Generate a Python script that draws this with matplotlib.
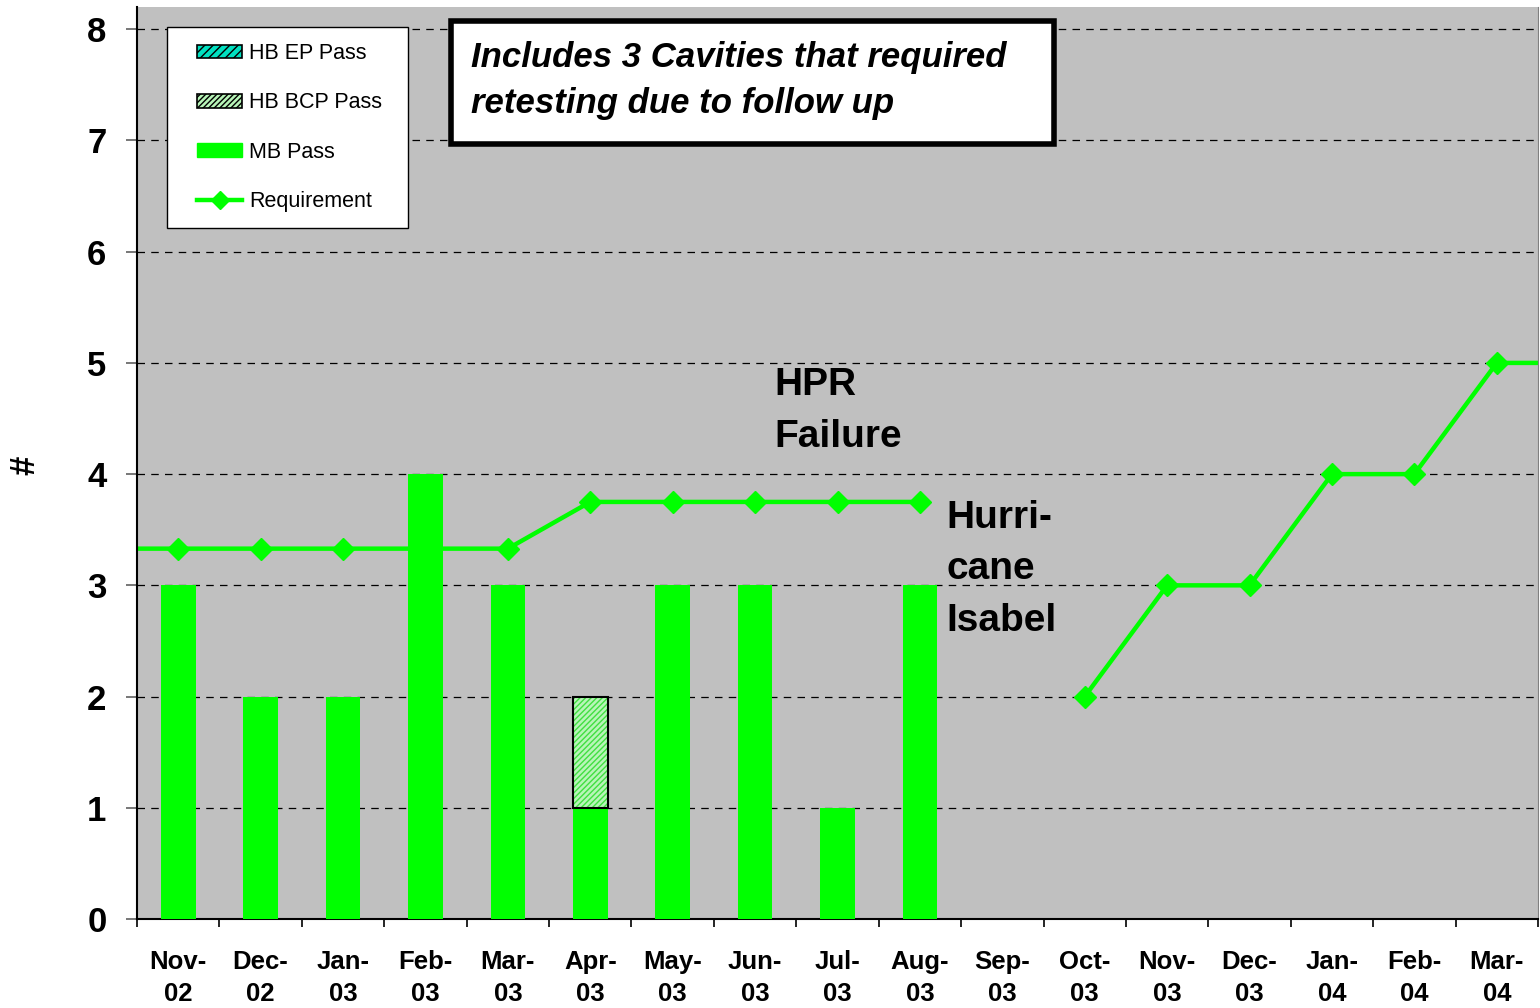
import numpy as np
import matplotlib
matplotlib.use("Agg")
import matplotlib.pyplot as plt
from matplotlib.patches import Patch, Rectangle
from matplotlib.lines import Line2D

plt.rcParams['font.family'] = ['Liberation Sans', 'DejaVu Sans']

# data
months = ['Nov-\n02', 'Dec-\n02', 'Jan-\n03', 'Feb-\n03', 'Mar-\n03', 'Apr-\n03', 'May-\n03',
          'Jun-\n03', 'Jul-\n03', 'Aug-\n03', 'Sep-\n03', 'Oct-\n03', 'Nov-\n03', 'Dec-\n03',
          'Jan-\n04', 'Feb-\n04', 'Mar-\n04']
mb_pass = [3, 2, 2, 4, 3, 1, 3, 3, 1, 3, 0, 0, 0, 0, 0, 0, 0]
hb_bcp_pass = [0, 0, 0, 0, 0, 1, 0, 0, 0, 0, 0, 0, 0, 0, 0, 0, 0]
hb_ep_pass = [0] * 17
requirement = [3.33, 3.33, 3.33, 3.33, 3.33, 3.75, 3.75, 3.75, 3.75, 3.75, np.nan,
               2, 3, 3, 4, 4, 5]

x = np.arange(len(months))
green = '#00FF00'
grey = '#C0C0C0'

fig = plt.figure(figsize=(15.4, 10.08), dpi=100)
ax = fig.add_axes([137 / 1540, 1 - 919 / 1008, 1401 / 1540, 912 / 1008])
ax.set_facecolor(grey)

ax.set_xlim(-0.5, len(months) - 0.5)
ax.set_ylim(0, 8.2)

# grid lines
for yv in range(1, 9):
    ax.axhline(yv, color='black', lw=0.9, ls=(0, (6, 5)), zorder=1)

# requirement line (extends to both plot edges)
req_x = np.concatenate([[-0.5], x, [len(months) - 0.5]])
req_y = np.concatenate([[requirement[0]], requirement, [requirement[-1]]])
ax.plot(req_x, req_y, color=green, lw=3.2, zorder=2)
ax.plot(x, requirement, ls='none', marker='D', ms=11, color=green, zorder=2)

# bars
w = 0.42
ax.bar(x, mb_pass, width=w, color=green, lw=0, zorder=3)
bcp = np.array(hb_bcp_pass, dtype=float)
mask = bcp > 0
ax.bar(x[mask], bcp[mask], width=w, bottom=np.array(mb_pass)[mask], facecolor='#b8f5b8',
       edgecolor='#40e040', hatch='//////', lw=0, zorder=3)
ax.bar(x[mask], bcp[mask], width=w, bottom=np.array(mb_pass)[mask], fill=False,
       edgecolor='black', lw=1.5, zorder=4)
ep = np.array(hb_ep_pass, dtype=float)
if (ep > 0).any():
    ax.bar(x, ep, width=w, bottom=np.array(mb_pass) + bcp, facecolor='#00E0C0',
           edgecolor='black', hatch='////', zorder=3)

# axes styling
ax.spines['top'].set_visible(False)
ax.spines['right'].set_color('#808080')
ax.spines['left'].set_color('black')
ax.spines['left'].set_linewidth(1.5)
ax.spines['bottom'].set_linewidth(1.5)

ax.set_yticks(range(0, 9))
ax.tick_params(axis='y', length=8, width=1.2, color='#606060', pad=14,
               labelsize=25)
for lab in ax.get_yticklabels():
    lab.set_fontweight('bold')

ax.set_xticks(x)
ax.set_xticklabels(months, fontsize=18.5, fontweight='bold', linespacing=1.42)
ax.set_xticks(np.arange(-0.5, len(months)), minor=True)
ax.tick_params(axis='x', which='major', length=0, pad=22)
ax.tick_params(axis='x', which='minor', length=6, width=1.2, color='black')

fig.text(25 / 1540, 1 - 465 / 1008, '#', fontsize=25, fontweight='bold',
         rotation=90, ha='center', va='center')

# annotations
ax.text(7.24, 4.96, 'HPR\nFailure', fontsize=28, fontweight='bold', ha='left', va='top',
        linespacing=1.55, zorder=5)
ax.text(9.32, 3.77, 'Hurri-\ncane\nIsabel', fontsize=28, fontweight='bold', ha='left',
        va='top', linespacing=1.55, zorder=5)

# note box
fig.add_artist(Rectangle((451 / 1540, 1 - 144 / 1008), 603 / 1540, 123 / 1008,
                         transform=fig.transFigure, facecolor='white',
                         edgecolor='black', lw=4, zorder=6))
fig.text(471 / 1540, 1 - 57 / 1008, 'Includes 3 Cavities that required', fontsize=25,
         fontweight='bold', style='italic', ha='left', va='center', zorder=7)
fig.text(471 / 1540, 1 - 103 / 1008, 'retesting due to follow up', fontsize=25,
         fontweight='bold', style='italic', ha='left', va='center', zorder=7)

# legend (frame drawn separately so padding matches)
ax.add_patch(Rectangle((167 / 1540, 1 - 228 / 1008), 241 / 1540, 201 / 1008,
                       transform=fig.transFigure, facecolor='white', edgecolor='black',
                       lw=1.0, zorder=5.5, clip_on=False))
handles = [
    Patch(facecolor='#00E0C0', edgecolor='black', hatch='////', lw=1.2),
    Patch(facecolor='#b8f5b8', edgecolor='black', hatch='//////', lw=1.2),
    Patch(facecolor=green, edgecolor=green),
    Line2D([0], [0], color=green, lw=3.2, marker='D', ms=9),
]
labels = ['HB EP Pass', 'HB BCP Pass', 'MB Pass', 'Requirement']
leg = ax.legend(handles, labels, loc='upper left',
                bbox_to_anchor=(197 / 1540, 1 - 43 / 1008), bbox_transform=fig.transFigure,
                fontsize=15.5, frameon=False, handlelength=2.1, handleheight=0.6,
                labelspacing=1.32, borderpad=0, handletextpad=0.33, borderaxespad=0)
leg.set_zorder(6)

fig.savefig('out.png', dpi=100, facecolor='white')
